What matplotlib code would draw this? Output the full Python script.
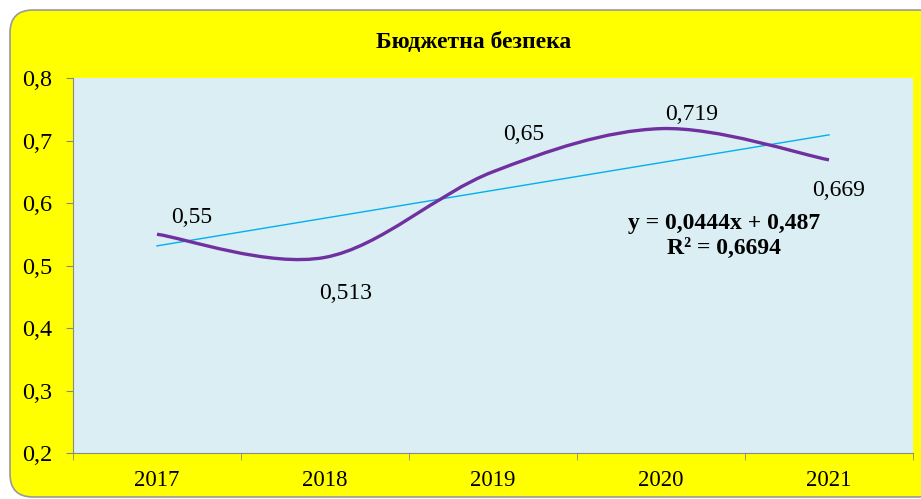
import numpy as np
import matplotlib
matplotlib.use('Agg')
import matplotlib.pyplot as plt
from matplotlib.patches import FancyBboxPatch
from matplotlib.path import Path
from matplotlib.patches import PathPatch

plt.rcParams['font.family'] = ['Liberation Serif', 'DejaVu Serif']

years = ['2017', '2018', '2019', '2020', '2021']
values = [0.55, 0.513, 0.65, 0.719, 0.669]
labels = ['0,55', '0,513', '0,65', '0,719', '0,669']
title = 'Бюджетна безпека'

x = np.arange(1, len(values) + 1)
y = np.array(values)

W, H = 921, 499
fig = plt.figure(figsize=(W / 100, H / 100), dpi=100)
fig.patch.set_facecolor('white')

# yellow rounded frame
box = FancyBboxPatch((10 / W, 2 / H), 930 / W, 487 / H,
                     boxstyle='round,pad=0,rounding_size=0.025',
                     transform=fig.transFigure, facecolor='#FFFF00',
                     edgecolor='#999999', linewidth=1.2,
                     mutation_aspect=W / H, zorder=-1)
fig.patches.append(box)

ax = fig.add_axes([73 / W, (H - 453) / H, 840 / W, 375 / H])
ax.set_facecolor('#DAEEF3')

# Catmull-Rom style smoothing (Excel "smoothed line")
pts = np.column_stack([x, y])
verts = [tuple(pts[0])]
codes = [Path.MOVETO]
for i in range(len(pts) - 1):
    p0 = pts[i - 1] if i > 0 else pts[i]
    p1 = pts[i]
    p2 = pts[i + 1]
    p3 = pts[i + 2] if i + 2 < len(pts) else pts[i + 1]
    c1 = p1 + (p2 - p0) / 6
    c2 = p2 - (p3 - p1) / 6
    verts += [tuple(c1), tuple(c2), tuple(p2)]
    codes += [Path.CURVE4] * 3
ax.add_patch(PathPatch(Path(verts, codes), facecolor='none',
                       edgecolor='#7030A0', linewidth=2.4, zorder=3))

# linear trend
k, b = np.polyfit(x, y, 1)
r2 = 1 - np.sum((y - (k * x + b)) ** 2) / np.sum((y - y.mean()) ** 2)
ax.plot(x, k * x + b, color='#00B0F0', linewidth=1.0, zorder=2)

offsets = [(25, 12), (15, -26), (22, 27), (22, 10), (7, -22)]
for xi, yi, lab, off in zip(x, y, labels, offsets):
    ax.annotate(lab, (xi, yi), xytext=off, textcoords='offset points',
                ha='center', va='center', fontsize=17)

eq = 'y = %sx + %s' % (('%.4f' % k).replace('.', ','), ('%.3f' % b).replace('.', ','))
ax.text(0.775, 0.612, eq, transform=ax.transAxes, ha='center', va='center',
        fontsize=17, fontweight='bold')
ax.text(0.775, 0.546, 'R² = %s' % ('%.4f' % r2).replace('.', ','),
        transform=ax.transAxes, ha='center', va='center',
        fontsize=17, fontweight='bold')

ax.set_xlim(0.5, len(values) + 0.5)
ax.set_ylim(0.2, 0.8)
ax.set_yticks(np.arange(0.2, 0.81, 0.1))
ax.set_yticklabels([('%.1f' % t).replace('.', ',') for t in np.arange(0.2, 0.81, 0.1)])
ax.set_xticks(x)
ax.set_xticklabels(years)
ax.set_xticks(np.arange(0.5, len(values) + 1, 1), minor=True)
ax.tick_params(axis='x', which='major', length=0, pad=12, labelsize=16.5)
ax.tick_params(axis='x', which='minor', length=5, color='#888888')
ax.tick_params(axis='y', length=5, color='#888888', labelsize=17.5, pad=10)

for s in ['top', 'right']:
    ax.spines[s].set_visible(False)
for s in ['left', 'bottom']:
    ax.spines[s].set_color('#888888')

fig.text(474 / W, 1 - 42 / H, title, ha='center', va='center',
         fontsize=17, fontweight='bold')

fig.savefig('out.png', dpi=100)
